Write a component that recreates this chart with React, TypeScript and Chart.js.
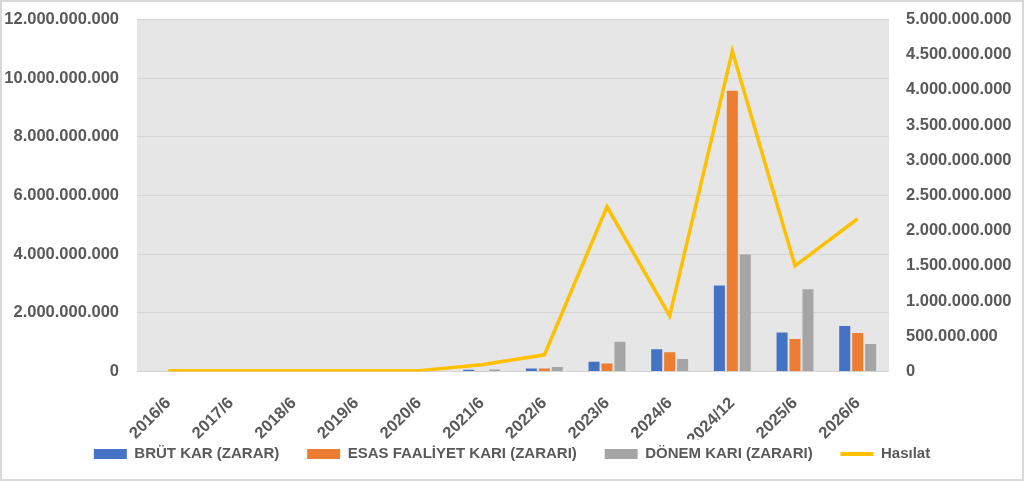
import React, { useEffect, useRef } from "react";
import { Chart, registerables } from "chart.js";

Chart.register(...registerables);

const categories = [
  "2016/6", "2017/6", "2018/6", "2019/6", "2020/6", "2021/6",
  "2022/6", "2023/6", "2024/6", "2024/12", "2025/6", "2026/6",
];
const brutKar = [0, 0, 0, 0, 0, 60e6, 100e6, 330e6, 760e6, 2930e6, 1330e6, 1550e6];
const esasFaaliyetKari = [0, 0, 0, 0, 0, 10e6, 100e6, 270e6, 660e6, 9570e6, 1110e6, 1310e6];
const donemKari = [0, 0, 0, 0, 0, 70e6, 150e6, 1010e6, 430e6, 3990e6, 2800e6, 940e6];
const hasilat = [10e6, 10e6, 10e6, 10e6, 12e6, 95e6, 237e6, 2340e6, 790e6, 4550e6, 1500e6, 2170e6];

const seriesNames = ["BRÜT KAR (ZARAR)", "ESAS FAALİYET KARI (ZARARI)", "DÖNEM KARI (ZARARI)", "Hasılat"];

const leftMax = 12e9;
const leftStep = 2e9;
const rightMax = 5e9;
const rightStep = 5e8;

const fmt = (v: number) =>
  String(Math.round(v)).replace(/\B(?=(\d{3})+(?!\d))/g, ".");

const FONT = "'Liberation Sans', Arial, sans-serif";
const TEXT = "#595959";

const bgPlugin = {
  id: "bgPlugin",
  beforeDraw(chart: any) {
    const { ctx, chartArea: a, width, height } = chart;
    ctx.save();
    ctx.fillStyle = "#ffffff";
    ctx.fillRect(0, 0, width, height);
    ctx.fillStyle = "#E6E6E6";
    ctx.fillRect(a.left, a.top, a.right - a.left, a.bottom - a.top);
    ctx.strokeStyle = "#D9D9D9";
    ctx.lineWidth = 2;
    ctx.strokeRect(1, 1, width - 2, height - 2);
    ctx.restore();
  },
};

export default function App() {
  const ref = useRef<HTMLCanvasElement | null>(null);

  useEffect(() => {
    document.body.style.margin = "0";
    const canvas = ref.current;
    if (!canvas) return;
    const barCommon = {
      type: "bar" as const,
      yAxisID: "y",
      categoryPercentage: 0.62,
      barPercentage: 0.85,
      order: 1,
      pointStyle: "rect",
    };
    const chart = new Chart(canvas, {
      type: "bar",
      data: {
        labels: categories,
        datasets: [
          { ...barCommon, label: seriesNames[0], data: brutKar, backgroundColor: "#4472C4" },
          { ...barCommon, label: seriesNames[1], data: esasFaaliyetKari, backgroundColor: "#ED7D31" },
          { ...barCommon, label: seriesNames[2], data: donemKari, backgroundColor: "#A5A5A5" },
          {
            type: "line" as const,
            label: seriesNames[3],
            data: hasilat,
            yAxisID: "y1",
            borderColor: "#FFC000",
            backgroundColor: "#FFC000",
            borderWidth: 3.5,
            pointRadius: 0,
            pointHoverRadius: 0,
            pointStyle: "line",
            tension: 0,
            order: 0,
          } as any,
        ],
      },
      options: {
        responsive: false,
        animation: false,
        layout: { padding: { top: 19.5, bottom: 9.5, left: 0, right: 0 } },
        plugins: {
          tooltip: { enabled: false },
          legend: {
            position: "bottom",
            labels: {
              usePointStyle: true,
              pointStyleWidth: 33,
              boxHeight: 10,
              padding: 7,
              color: TEXT,
              font: { family: FONT, size: 15, weight: "bold" },
              sort: (a: any, b: any) => a.datasetIndex - b.datasetIndex,
              generateLabels: (chart: any) => {
                const items = Chart.defaults.plugins.legend.labels.generateLabels(chart);
                return items.map((it: any) => {
                  if (it.datasetIndex === 3) {
                    return { ...it, pointStyle: "line", lineWidth: 4, strokeStyle: "#FFC000", fillStyle: "#FFC000" };
                  }
                  return { ...it, text: it.text + "     ", pointStyle: "rect", lineWidth: 0 };
                });
              },
            },
          },
        },
        scales: {
          x: {
            grid: { display: false },
            border: { display: false },
            ticks: {
              autoSkip: false,
              minRotation: 45,
              maxRotation: 45,
              padding: 14,
              color: TEXT,
              font: { family: FONT, size: 16.5, weight: "bold" },
            },
            afterFit: (s: any) => {
              s.height = 68;
            },
          },
          y: {
            position: "left",
            min: 0,
            max: leftMax,
            border: { display: false },
            grid: { color: "#D4D4D4", lineWidth: 1, drawTicks: true, tickLength: 9, tickColor: "rgba(0,0,0,0)" },
            ticks: {
              stepSize: leftStep,
              padding: 9,
              color: TEXT,
              font: { family: FONT, size: 16.5, weight: "bold" },
              callback: (v: any) => fmt(Number(v)),
            },
            afterFit: (s: any) => {
              s.width = 137;
            },
          },
          y1: {
            position: "right",
            min: 0,
            max: rightMax,
            border: { display: false },
            grid: { drawOnChartArea: false, drawTicks: true, tickLength: 8, tickColor: "rgba(0,0,0,0)" },
            ticks: {
              stepSize: rightStep,
              padding: 9,
              color: TEXT,
              font: { family: FONT, size: 16.5, weight: "bold" },
              callback: (v: any) => fmt(Number(v)),
            },
            afterFit: (s: any) => {
              s.width = 135;
            },
          },
        },
      } as any,
      plugins: [bgPlugin],
    });
    return () => chart.destroy();
  }, []);

  return (
    <div style={{ width: 1024, height: 481 }}>
      <canvas ref={ref} width={1024} height={481} style={{ display: "block" }} />
    </div>
  );
}
